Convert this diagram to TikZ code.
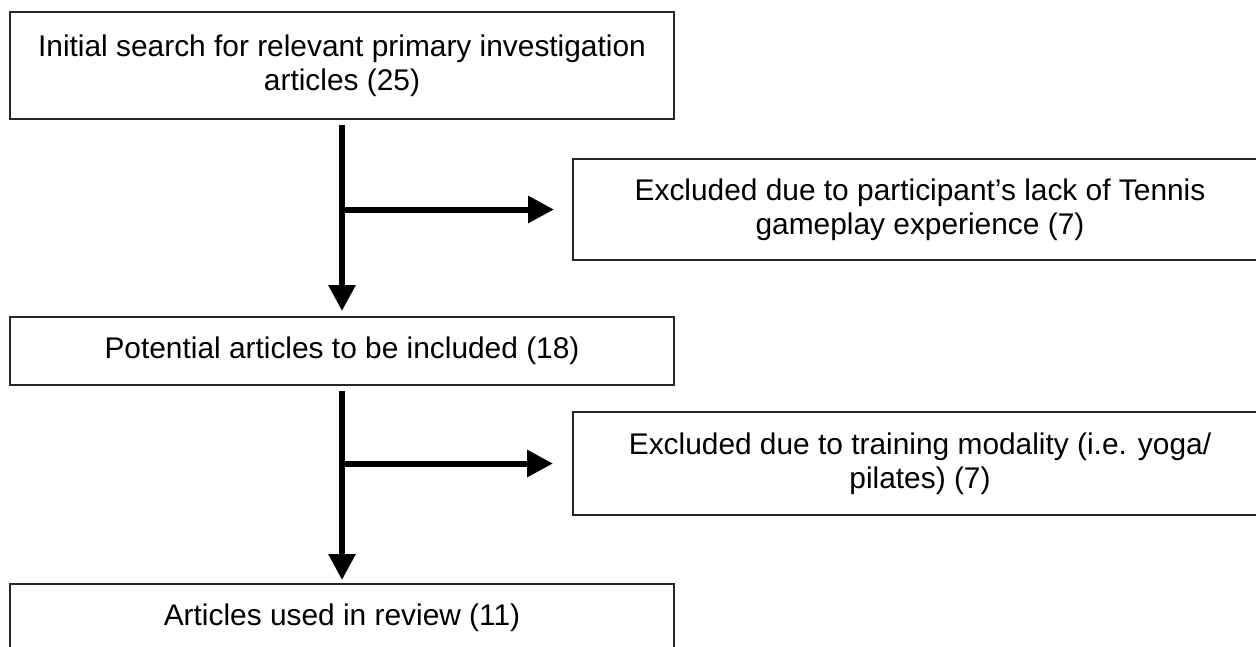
\documentclass[tikz,border=0pt]{standalone}
\usepackage{fontspec}
\setmainfont{Liberation Sans}
\usetikzlibrary{arrows.meta, positioning}

\begin{document}
\begin{tikzpicture}[
    node distance=3.92cm,
    box/.style={rectangle, draw=black!85, line width=0.04cm, minimum width=13.28cm, align=center, font=\fontsize{17}{19.5}\selectfont},
    wide/.style={box, minimum width=13.88cm},
    arrow/.style={-{Triangle[width=0.52cm, length=0.52cm]}, line width=0.12cm},
]
\useasboundingbox (0,0) rectangle (25.12,-12.92);

% Main flow (left column)
\node[box, minimum height=2.14cm] (initial) at (6.84,-1.31) {Initial search for relevant primary investigation\\articles (25)};
\node[box, minimum height=1.36cm, below=of initial] (potential) {Potential articles to be included (18)};
\node[box, minimum height=1.36cm, below=3.94cm of potential] (used) {Articles used in review (11)};

% Exclusions (right column)
\node[wide, minimum height=2.02cm] (excl1) at (18.4,-4.19) {Excluded due to participant's lack of Tennis\\gameplay experience (7)};
\node[wide, minimum height=2.06cm] (excl2) at (18.4,-9.27) {Excluded due to training modality (i.e. yoga/\\pilates) (7)};

% Branch points on the main arrows
\coordinate (split1) at (initial.south |- excl1.west);
\coordinate (split2) at (potential.south |- excl2.west);

% Arrows
\draw[arrow, shorten <=0.1cm, shorten >=0.1cm] (initial) -- (potential);
\draw[arrow, shorten <=0.1cm, shorten >=0.06cm] (potential) -- (used);
\draw[arrow, shorten >=0.36cm] (split1) -- (excl1);
\draw[arrow, shorten >=0.38cm] (split2) -- (excl2);

\end{tikzpicture}
\end{document}
